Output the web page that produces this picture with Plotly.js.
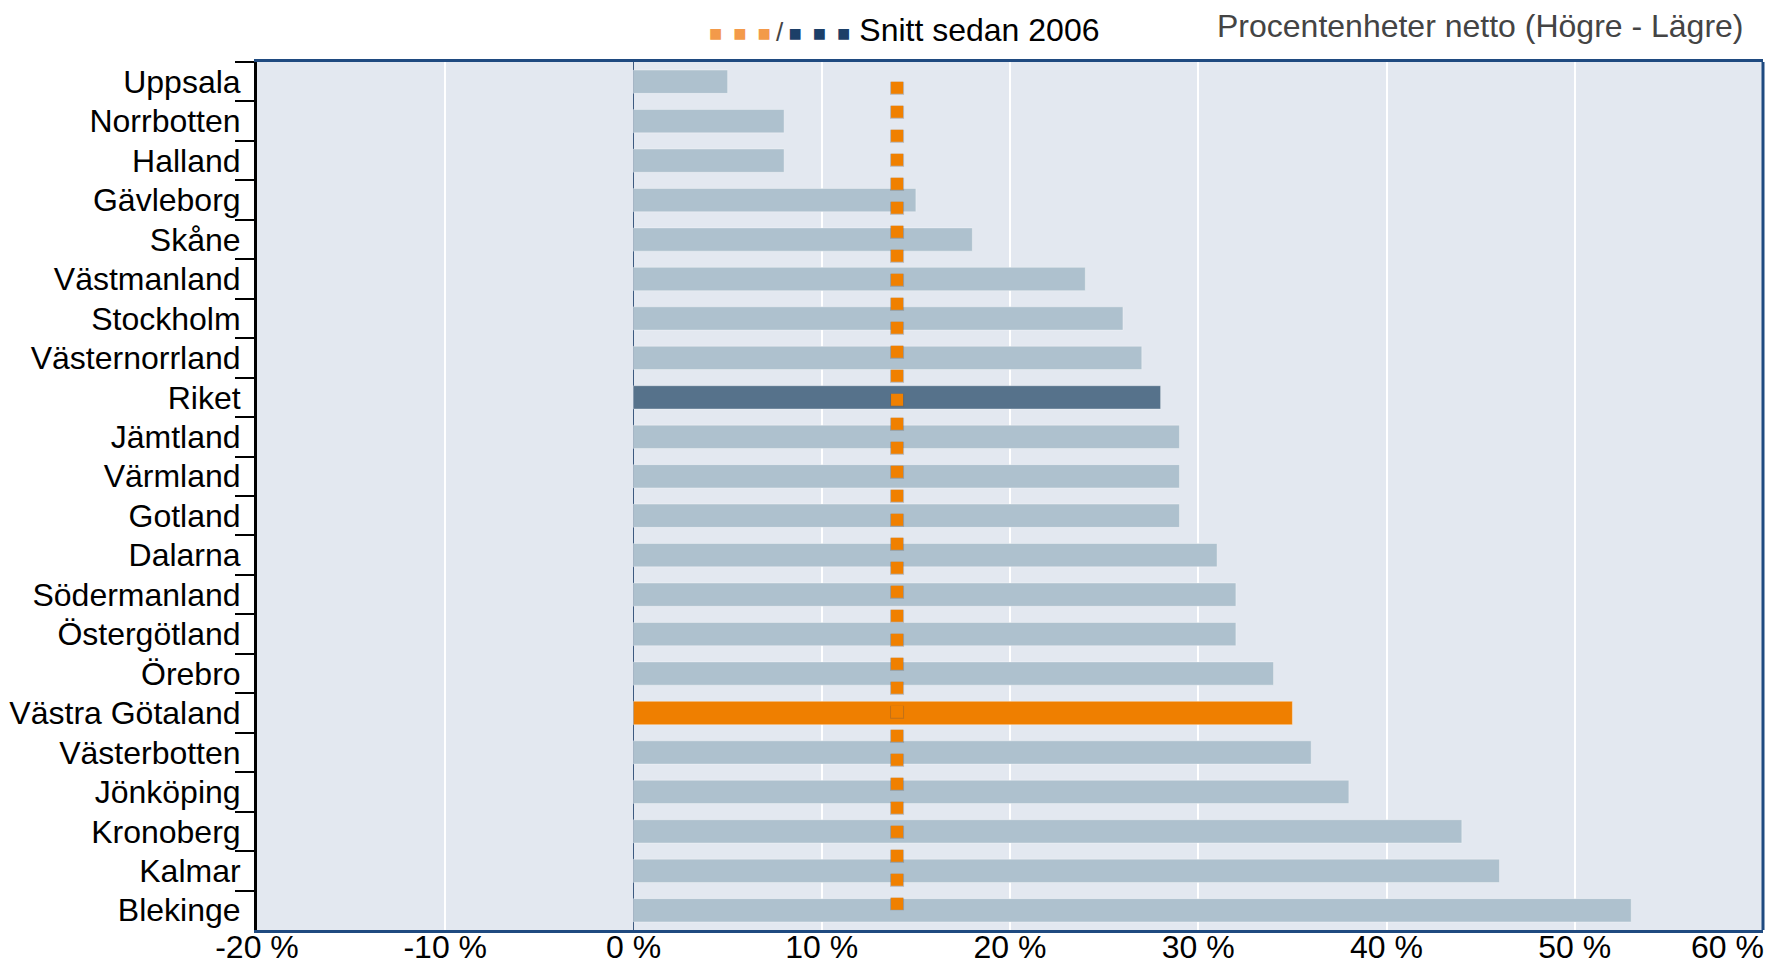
<!DOCTYPE html>
<html>
<head>
<meta charset="utf-8">
<script src="https://cdn.plot.ly/plotly-3.0.1.min.js"></script>
<style>html,body{margin:0;padding:0;background:#fff;}#chart{width:1768px;height:963px;}</style>
</head>
<body>
<div id="chart"></div>
<script>
// ---- data ----
const regions = ["Uppsala","Norrbotten","Halland","Gävleborg","Skåne","Västmanland","Stockholm","Västernorrland","Riket","Jämtland","Värmland","Gotland","Dalarna","Södermanland","Östergötland","Örebro","Västra Götaland","Västerbotten","Jönköping","Kronoberg","Kalmar","Blekinge"];
const netValues = [5,8,8,15,18,24,26,27,28,29,29,29,31,32,32,34,35,36,38,44,46,53];
const averageSince2006 = 14;
const nationName = "Riket";
const focusRegion = "Västra Götaland";
const xTickVals = [-20,-10,0,10,20,30,40,50,60];
const xTickText = ["-20 %","-10 %","0 %","10 %","20 %","30 %","40 %","50 %","60 %"];
const legendLabel = "Snitt sedan 2006";
const unitLabel = "Procentenheter netto (Högre - Lägre)";

// ---- styles ----
const colLight = "#aec1ce", colNation = "#56728b", colFocus = "#ef7f00";
const barColors = regions.map(r => r === nationName ? colNation : (r === focusRegion ? colFocus : colLight));
const FONT = "Liberation Sans, Arial, sans-serif";
const FS = 32;
const NB = "\u00a0", EN = "\u2002", TH = "\u2009";
// last tick label is pulled inside the chart edge (padding with no-break spaces)
const xTickShown = xTickText.map((t, i) => i === xTickText.length - 1 ? t + NB.repeat(8) : t);

const avgX = [averageSince2006, averageSince2006];
const avgY = [regions[0], regions[regions.length - 1]];

const traces = [
  {
    type: "bar", orientation: "h",
    x: netValues, y: regions,
    marker: {color: barColors, line: {color: "rgba(255,255,255,0.35)", width: 1}},
    hoverinfo: "x+y", showlegend: false
  },
  {
    type: "scatter", mode: "lines", x: avgX, y: avgY,
    line: {color: "rgba(110,90,70,0.35)", width: 14, dash: "13px,11px"},
    hoverinfo: "skip", showlegend: false
  },
  {
    type: "scatter", mode: "lines", x: avgX, y: avgY,
    line: {color: "#f08000", width: 12, dash: "12px,12px"},
    hoverinfo: "skip", showlegend: false
  }
];

const sq = (c) => '<span style="color:' + c + ';font-size:22px">■' + EN + '■' + EN + '■</span>';

const layout = {
  width: 1768, height: 963,
  margin: {l: 257, r: 5, t: 62, b: 33, pad: 0},
  paper_bgcolor: "#ffffff",
  plot_bgcolor: "#e3e8f0",
  bargap: 0.41,
  font: {family: FONT, size: FS, color: "#000"},
  showlegend: false,
  xaxis: {
    range: [-20, 60], tickvals: xTickVals, ticktext: xTickShown,
    showgrid: true, gridcolor: "#ffffff", gridwidth: 2,
    zeroline: true, zerolinecolor: "#3d5a80", zerolinewidth: 1.5,
    showline: true, linecolor: "#1f4a80", linewidth: 3, mirror: true,
    ticks: "", ticklabelstandoff: -13, ticklabeloverflow: "allow",
    tickfont: {family: FONT, size: FS, color: "#000"},
    fixedrange: true
  },
  yaxis: {
    type: "category", range: [regions.length - 0.5, -0.5],
    showgrid: false, zeroline: false,
    showline: true, linecolor: "#000", linewidth: 3,
    ticks: "outside", tickson: "boundaries", ticklen: 19, tickwidth: 2, tickcolor: "#000",
    ticklabelstandoff: 7,
    tickfont: {family: FONT, size: FS, color: "#000"},
    fixedrange: true
  },
  shapes: [
    {type: "line", xref: "paper", yref: "paper", x0: 1, x1: 1, y0: 0, y1: 1,
     line: {color: "#1f4a80", width: 3}, layer: "above"}
  ],
  annotations: [
    {
      xref: "paper", yref: "paper", x: 0.299, y: 1.037, xanchor: "left", yanchor: "middle",
      showarrow: false,
      text: sq("#f39a4a") + '<span style="color:#444;font-size:26px">' + TH + '/' + TH + '</span>' + sq("#1c3f68") + NB + legendLabel,
      font: {family: FONT, size: FS, color: "#000"}
    },
    {
      xref: "paper", yref: "paper", x: 0.989, y: 1.041, xanchor: "right", yanchor: "middle",
      showarrow: false, text: unitLabel,
      font: {family: FONT, size: FS, color: "#444"}
    }
  ]
};

Plotly.newPlot("chart", traces, layout, {displayModeBar: false, staticPlot: true});
</script>
</body>
</html>
